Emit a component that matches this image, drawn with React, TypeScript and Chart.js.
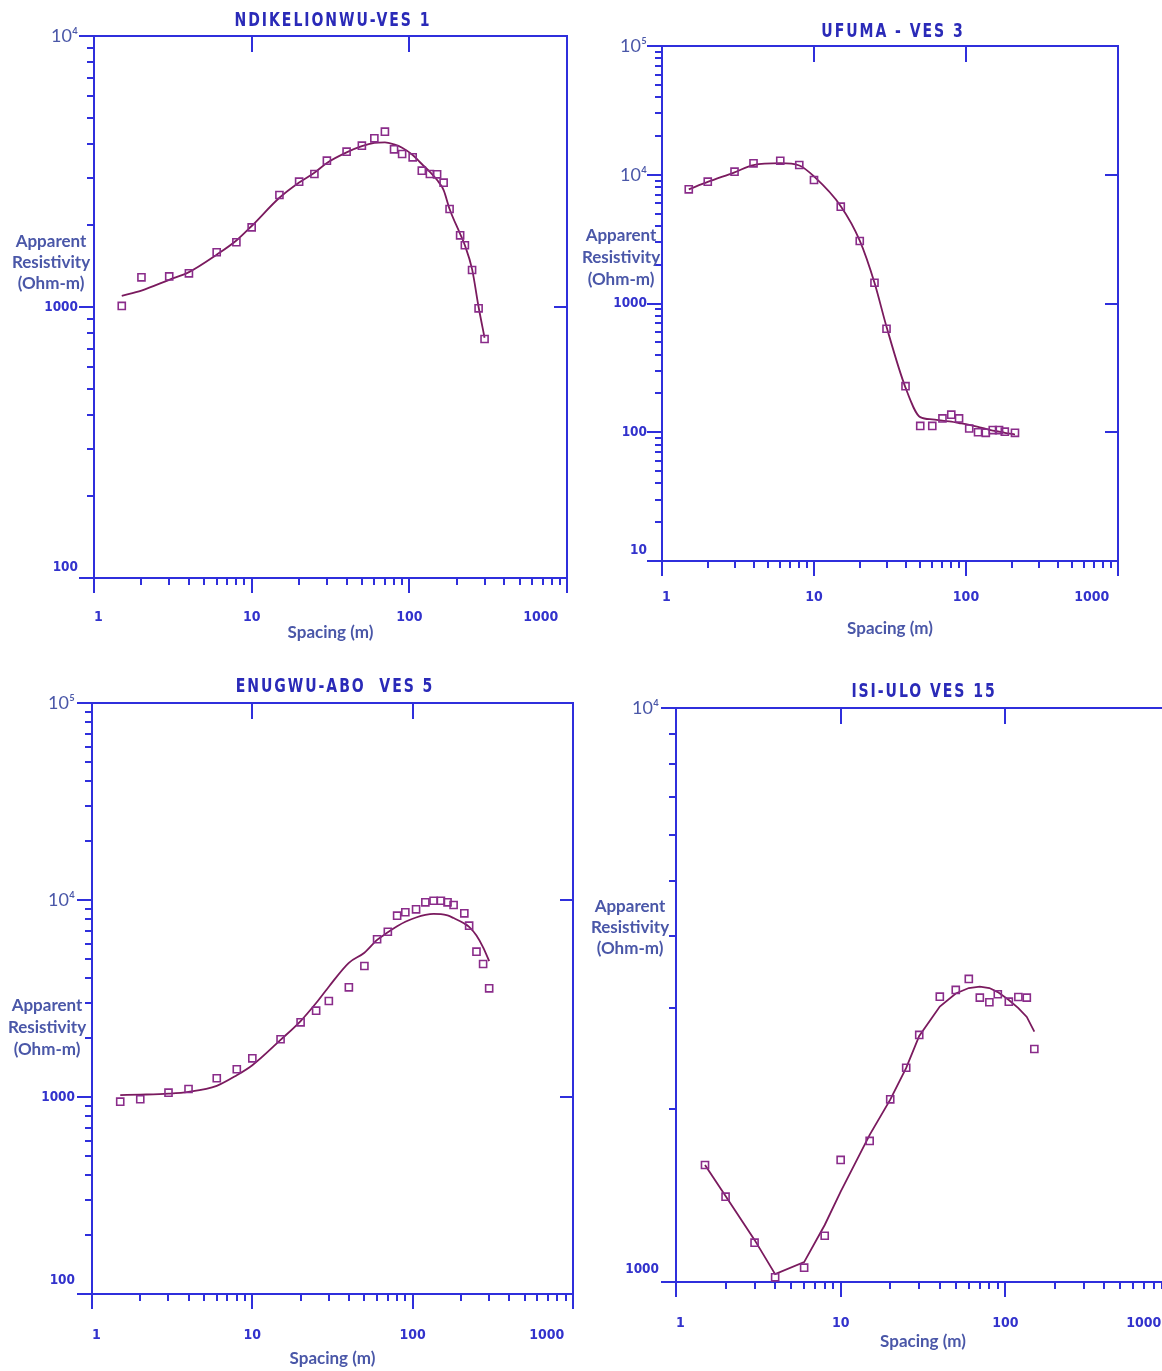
import React, { useEffect, useRef } from 'react';
import { Chart, registerables } from 'chart.js';

Chart.register(...registerables);

// ---------------- data ----------------
const spacing1 = [1.5, 2, 3, 4, 6, 8, 10, 15, 20, 25, 30, 40, 50, 60, 70, 80, 90, 105, 120, 135, 150, 165, 180, 210, 225, 250, 275, 300];
const rho1 = [1009, 1287, 1297, 1331, 1592, 1733, 1967, 2590, 2900, 3096, 3466, 3742, 3938, 4193, 4436, 3819, 3670, 3568, 3184, 3096, 3088, 2876, 2299, 1839, 1690, 1369, 989, 762];
const model1 = [1100, 1150, 1260, 1345, 1560, 1760, 1990, 2530, 2880, 3130, 3400, 3720, 3920, 4030, 4050, 3980, 3870, 3640, 3370, 3150, 2940, 2700, 2300, 1860, 1690, 1380, 1000, 770];

const spacing2 = [1.5, 2, 3, 4, 6, 8, 10, 15, 20, 25, 30, 40, 50, 60, 70, 80, 90, 105, 120, 135, 150, 165, 180, 210];
const rho2 = [7710, 8830, 10560, 12270, 12850, 11910, 9100, 5650, 3060, 1450, 637, 228, 112, 112, 128, 137, 128, 107, 100, 99, 104, 104, 101, 99];
const model2 = [7710, 8800, 10450, 11900, 12300, 11800, 9700, 5700, 3080, 1450, 660, 222, 131, 126, 123, 121, 118, 114, 110, 106, 103, 101, 99, 96];

const spacing3 = [1.5, 2, 3, 4, 6, 8, 10, 15, 20, 25, 30, 40, 50, 60, 70, 80, 90, 105, 120, 135, 150, 165, 180, 210, 225, 250, 275, 300];
const rho3 = [947, 974, 1052, 1098, 1245, 1383, 1572, 1964, 2394, 2742, 3072, 3605, 4624, 6318, 6902, 8323, 8662, 8970, 9734, 9917, 9917, 9734, 9432, 8560, 7405, 5465, 4732, 3563];
const model3 = [1023, 1028, 1040, 1062, 1140, 1290, 1450, 1950, 2430, 3000, 3630, 4800, 5400, 6270, 6850, 7350, 7750, 8150, 8400, 8500, 8480, 8350, 8100, 7600, 7300, 6600, 5750, 4900];

const spacing4 = [1.5, 2, 3, 4, 6, 8, 10, 15, 20, 25, 30, 40, 50, 60, 70, 80, 90, 105, 120, 135, 150];
const rho4 = [1599, 1408, 1171, 1019, 1059, 1204, 1632, 1761, 2081, 2362, 2694, 3141, 3227, 3373, 3129, 3072, 3172, 3079, 3137, 3129, 2546];
const model4 = [1599, 1412, 1184, 1032, 1083, 1257, 1437, 1804, 2078, 2360, 2683, 3019, 3182, 3252, 3269, 3252, 3199, 3099, 3001, 2896, 2730];

const xLabelValues = [1, 10, 100, 1000];
const xLabelTexts = ['1', '10', '100', '1000\u2007'];
const topTickValues = [10, 100];

const yLabelValues1 = [100, 1000, 10000];
const yLabelTexts1 = ['100', '1000', '10⁴'];
const yLabelValues2 = [10, 100, 1000, 10000, 100000];
const yLabelTexts2 = ['10', '100', '1000', '10⁴', '10⁵'];
const yLabelValues3 = [100, 1000, 10000, 100000];
const yLabelTexts3 = ['100', '1000', '10⁴', '10⁵'];
const yLabelValues4 = [1000, 10000];
const yLabelTexts4 = ['1000', '10⁴'];

const chartTitles = ['NDIKELIONWU-VES 1', 'UFUMA - VES 3', 'ENUGWU-ABO  VES 5', 'ISI-ULO VES 15'];
const yTitleLines = ['Apparent', 'Resistivity', '(Ohm-m)'];
const xTitleText = 'Spacing (m)';

// ---------------- styles ----------------
const AXIS_BLUE = '#2f2fdc';
const LABEL_BLUE = '#3232cc';
const TITLE_BLUE = '#2a2ab8';
const TEXT_SLATE = '#4a57a8';
const MARK = '#8a2c8a';
const LINE = '#7a1a5e';
const NARROW = "'Liberation Sans Narrow', 'Arial Narrow', 'DejaVu Sans Condensed', sans-serif";
const HUMAN = "Lato, 'Open Sans', sans-serif";
const Y_AXIS_W = 50;

type Panel = {
  title: string;
  titleX: number;
  titleY: number;
  canvas: { left: number; top: number; width: number; height: number };
  area: { L: number; T: number; R: number; B: number };
  yMin: number;
  yMax: number;
  spacing: number[];
  rho: number[];
  model: number[];
  yLabelValues: number[];
  yLabelTexts: string[];
  rightTicks: number[];
  xLabelPad: number;
  xAxisH: number;
  yLabelPad: number;
  bottomLH: string;
  yTitleX: number;
  yTitleYs: number[];
  smooth: boolean;
};

const panels: Panel[] = [
  {
    title: chartTitles[0], titleX: 333, titleY: 19,
    canvas: { left: 0, top: 0, width: 610, height: 660 },
    area: { L: 94, T: 36, R: 567, B: 578 },
    yMin: 100, yMax: 10000,
    spacing: spacing1, rho: rho1, model: model1,
    yLabelValues: yLabelValues1, yLabelTexts: yLabelTexts1,
    rightTicks: [1000],
    xLabelPad: 24, xAxisH: 65, yLabelPad: 9, bottomLH: '21px',
    yTitleX: 51, yTitleYs: [240, 261, 282], smooth: true,
  },
  {
    title: chartTitles[1], titleX: 893, titleY: 30,
    canvas: { left: 580, top: 0, width: 620, height: 660 },
    area: { L: 662, T: 46, R: 1118, B: 561 },
    yMin: 10, yMax: 100000,
    spacing: spacing2, rho: rho2, model: model2,
    yLabelValues: yLabelValues2, yLabelTexts: yLabelTexts2,
    rightTicks: [100, 1000, 10000],
    xLabelPad: 21, xAxisH: 78, yLabelPad: 8, bottomLH: '22px',
    yTitleX: 621, yTitleYs: [234, 256, 278], smooth: true,
  },
  {
    title: chartTitles[2], titleX: 335, titleY: 685,
    canvas: { left: 0, top: 650, width: 610, height: 721 },
    area: { L: 92, T: 703, R: 573, B: 1294 },
    yMin: 100, yMax: 100000,
    spacing: spacing3, rho: rho3, model: model3,
    yLabelValues: yLabelValues3, yLabelTexts: yLabelTexts3,
    rightTicks: [1000, 10000],
    xLabelPad: 26, xAxisH: 75, yLabelPad: 10, bottomLH: '28px',
    yTitleX: 47, yTitleYs: [1004, 1026, 1048], smooth: true,
  },
  {
    title: chartTitles[3], titleX: 924, titleY: 690,
    canvas: { left: 580, top: 650, width: 640, height: 721 },
    area: { L: 676, T: 708, R: 1170, B: 1282 },
    yMin: 1000, yMax: 10000,
    spacing: spacing4, rho: rho4, model: model4,
    yLabelValues: yLabelValues4, yLabelTexts: yLabelTexts4,
    rightTicks: [],
    xLabelPad: 26, xAxisH: 70, yLabelPad: 10, bottomLH: '25px',
    yTitleX: 630, yTitleYs: [905, 926, 947], smooth: false,
  },
];

function logTicks(min: number, max: number): number[] {
  const out: number[] = [];
  for (let d = min; d < max; d *= 10) {
    for (let m = 1; m <= 9; m++) out.push(m * d);
  }
  out.push(max);
  return out;
}

function decadeTicks(min: number, max: number): number[] {
  const out: number[] = [];
  for (let d = min; d <= max; d *= 10) out.push(d);
  return out;
}

const setTicks = (vals: number[]) => (scale: any) => {
  scale.ticks = vals.map((v) => ({ value: v }));
};

function buildConfig(p: Panel): any {
  const xMin = 1;
  const xMax = 1000;
  const gridBase = { drawOnChartArea: false, drawTicks: true, color: AXIS_BLUE, lineWidth: 2, tickWidth: 2, tickColor: AXIS_BLUE };
  const noBorder = { display: false };
  const border = { display: true, color: AXIS_BLUE, width: 2 };
  const padding = {
    left: p.area.L - p.canvas.left - Y_AXIS_W,
    top: p.area.T - p.canvas.top,
    right: p.canvas.left + p.canvas.width - p.area.R,
    bottom: p.canvas.top + p.canvas.height - p.area.B - p.xAxisH,
  };
  const lineDs: any = {
    type: 'line',
    data: p.spacing.map((x, i) => ({ x, y: p.model[i] })),
    borderColor: LINE,
    borderWidth: 1.8,
    pointRadius: 0,
    fill: false,
    xAxisID: 'x',
    yAxisID: 'y',
    order: 2,
  };
  if (p.smooth) lineDs.cubicInterpolationMode = 'monotone';
  else lineDs.tension = 0;
  const pointDs: any = {
    type: 'line',
    data: p.spacing.map((x, i) => ({ x, y: p.rho[i] })),
    showLine: false,
    pointStyle: 'rect',
    pointRadius: 5,
    pointBorderWidth: 1.6,
    pointBorderColor: MARK,
    pointBackgroundColor: 'rgba(255,255,255,0)',
    xAxisID: 'x',
    yAxisID: 'y',
    order: 1,
  };
  return {
    type: 'line',
    data: { datasets: [pointDs, lineDs] },
    options: {
      animation: false,
      responsive: false,
      events: [],
      layout: { padding },
      plugins: { legend: { display: false }, tooltip: { enabled: false }, title: { display: false } },
      scales: {
        x: {
          type: 'logarithmic', position: 'bottom', min: xMin, max: xMax, weight: 1,
          afterBuildTicks: setTicks(logTicks(xMin, xMax)),
          afterFit: (s: any) => { s.height = p.xAxisH; },
          grid: { ...gridBase, tickLength: 7 },
          border,
          ticks: {
            autoSkip: false, maxRotation: 0, minRotation: 0, align: 'inner', padding: p.xLabelPad,
            color: LABEL_BLUE,
            font: { family: NARROW, size: 14, weight: 'bold' },
            callback: (v: number) => {
              const i = xLabelValues.indexOf(v);
              return i >= 0 ? xLabelTexts[i] : '';
            },
          },
          title: {
            display: true, text: xTitleText, color: TEXT_SLATE,
            font: { family: HUMAN, size: 17, weight: 'bold', lineHeight: 1.2 },
            padding: { top: 0, bottom: 0 },
          },
        },
        xMaj: {
          type: 'logarithmic', position: 'bottom', axis: 'x', min: xMin, max: xMax, weight: 0,
          afterBuildTicks: setTicks(decadeTicks(xMin, xMax)),
          afterFit: (s: any) => { s.height = 0; },
          grid: { ...gridBase, tickLength: 15 },
          border: noBorder,
          ticks: { display: false },
        },
        x2: {
          type: 'logarithmic', position: 'top', axis: 'x', min: xMin, max: xMax, weight: 0,
          afterBuildTicks: setTicks(topTickValues),
          afterFit: (s: any) => { s.height = 0; },
          grid: { ...gridBase, tickLength: -16 },
          border,
          ticks: { display: false },
        },
        y: {
          type: 'logarithmic', position: 'left', min: p.yMin, max: p.yMax, weight: 1,
          afterBuildTicks: setTicks(logTicks(p.yMin, p.yMax)),
          afterFit: (s: any) => { s.width = Y_AXIS_W; },
          grid: { ...gridBase, tickLength: 7 },
          border,
          ticks: {
            autoSkip: false, padding: p.yLabelPad,
            color: (ctx: any) => (ctx.tick && ctx.tick.value >= 10000 ? TEXT_SLATE : LABEL_BLUE),
            font: (ctx: any) => {
              const v = ctx.tick ? ctx.tick.value : 0;
              if (v >= 10000) return { family: HUMAN, size: 18, weight: 'normal', lineHeight: 1.2 };
              if (v === p.yMin) return { family: NARROW, size: 13.5, weight: 'bold', lineHeight: p.bottomLH };
              return { family: NARROW, size: 13.5, weight: 'bold', lineHeight: 1.2 };
            },
            callback: (v: number) => {
              const i = p.yLabelValues.indexOf(v);
              if (i < 0) return '';
              return v === p.yMin ? [p.yLabelTexts[i], ''] : p.yLabelTexts[i];
            },
          },
        },
        yMaj: {
          type: 'logarithmic', position: 'left', axis: 'y', min: p.yMin, max: p.yMax, weight: 0,
          afterBuildTicks: setTicks(decadeTicks(p.yMin, p.yMax)),
          afterFit: (s: any) => { s.width = 0; },
          grid: { ...gridBase, tickLength: 15 },
          border: noBorder,
          ticks: { display: false },
        },
        y2: {
          type: 'logarithmic', position: 'right', axis: 'y', min: p.yMin, max: p.yMax, weight: 0,
          afterBuildTicks: setTicks(p.rightTicks.length ? p.rightTicks : [p.yMin]),
          afterFit: (s: any) => { s.width = 0; },
          grid: { ...gridBase, tickLength: -13, drawTicks: p.rightTicks.length > 0 },
          border,
          ticks: { display: false },
        },
      },
    },
  };
}

function PanelChart({ p }: { p: Panel }) {
  const ref = useRef<HTMLCanvasElement>(null);
  useEffect(() => {
    const canvas = ref.current;
    if (!canvas) return;
    const chart = new Chart(canvas, buildConfig(p));
    return () => chart.destroy();
  }, [p]);
  return (
    <>
      <canvas
        ref={ref}
        width={p.canvas.width}
        height={p.canvas.height}
        style={{ position: 'absolute', left: p.canvas.left, top: p.canvas.top, width: p.canvas.width, height: p.canvas.height }}
      />
      <div
        style={{
          position: 'absolute', left: p.titleX, top: p.titleY, transform: 'translate(-50%, -50%) scaleX(0.78)',
          fontFamily: NARROW, fontWeight: 'bold', fontSize: 20, letterSpacing: '2.5px', color: TITLE_BLUE,
          whiteSpace: 'pre', lineHeight: 1,
        }}
      >
        {p.title}
      </div>
      {yTitleLines.map((t, i) => (
        <div
          key={t}
          style={{
            position: 'absolute', left: p.yTitleX, top: p.yTitleYs[i], transform: 'translate(-50%, -50%)',
            fontFamily: HUMAN, fontWeight: 'bold', fontSize: 17, color: TEXT_SLATE, whiteSpace: 'nowrap', lineHeight: 1,
          }}
        >
          {t}
        </div>
      ))}
    </>
  );
}

export default function App() {
  return (
    <div style={{ position: 'absolute', left: 0, top: 0, width: 1162, height: 1371, overflow: 'hidden', background: '#ffffff' }}>
      {panels.map((p) => (
        <PanelChart key={p.title} p={p} />
      ))}
    </div>
  );
}
